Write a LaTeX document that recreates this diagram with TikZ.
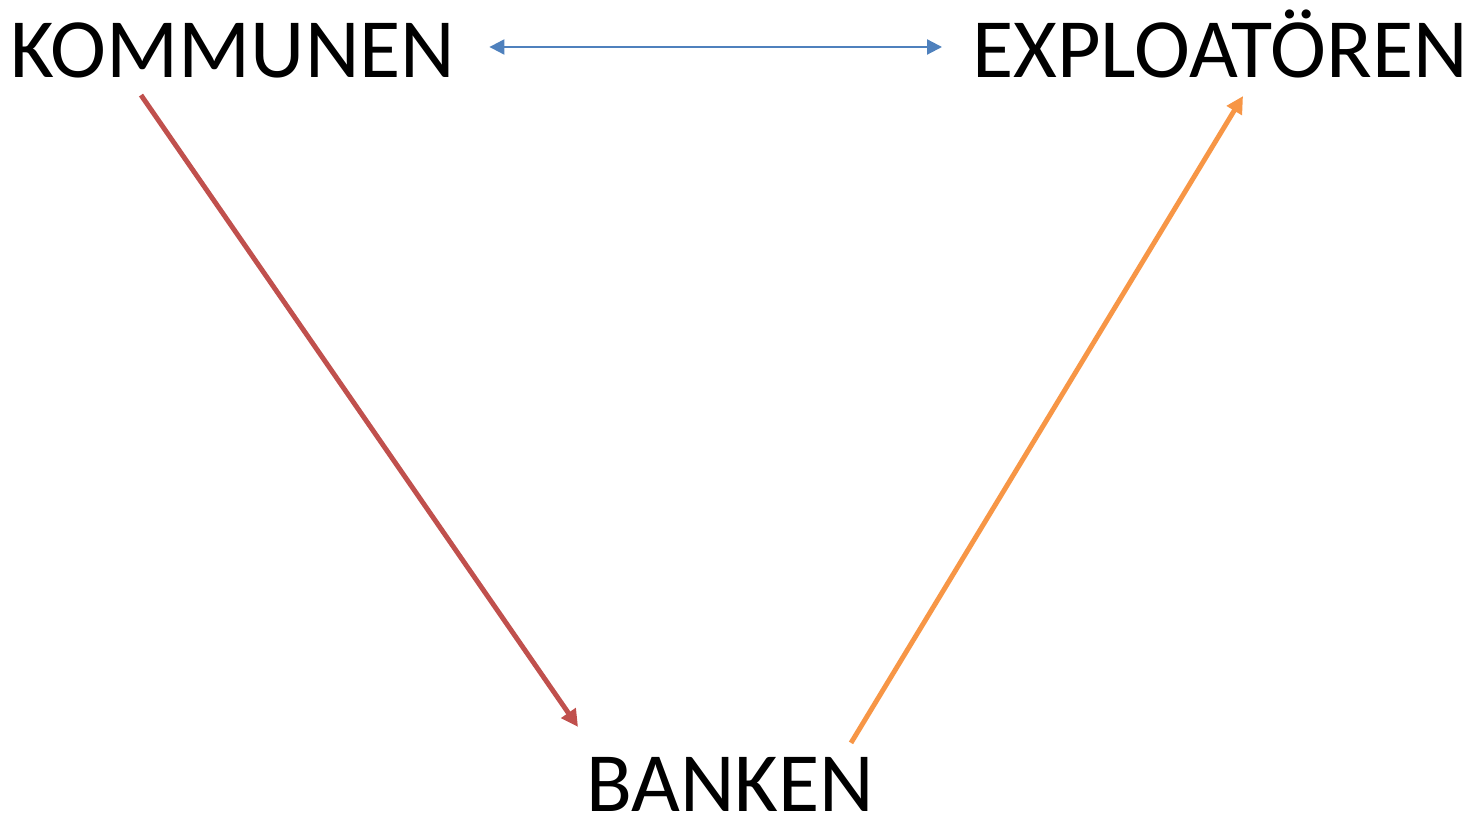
\documentclass[tikz,border=0pt]{standalone}
\usepackage{fontspec}
\setmainfont{Carlito}
\usetikzlibrary{arrows.meta}
\definecolor{linkblue}{HTML}{4F81BD}
\definecolor{linkred}{HTML}{C0504D}
\definecolor{linkorange}{HTML}{F79646}
\begin{document}
\begin{tikzpicture}[
  party/.style={inner sep=0pt, text height=1.07cm, text depth=0pt, font=\fontsize{48}{58}\selectfont},
  both/.style={{Triangle[length=0.3cm,width=0.3cm]}-{Triangle[length=0.3cm,width=0.3cm]}, line width=1.2pt, linkblue},
  loan/.style={-{Triangle[length=0.34cm,width=0.34cm]}, line width=2.8pt, linkred},
  back/.style={-{Triangle[length=0.34cm,width=0.34cm]}, line width=2.8pt, linkorange}
]
\useasboundingbox (0,0) rectangle (29.5,16.36);

% The three parties
\node[party] (kommunen) at (4.66, 15.34) {KOMMUNEN};
\node[party] (exploat)  at (24.40, 15.34) {EXPLOATÖREN};
\node[party] (banken)   at (14.60, 0.66) {BANKEN};

% Agreement between kommunen and exploatören
\draw[both] ([xshift=0.68cm,yshift=0.08cm]kommunen.east) -- ([xshift=-0.6cm,yshift=0.08cm]exploat.west);

% Kommunen -> banken
\draw[loan] ([xshift=-1.84cm,yshift=-0.34cm]kommunen.south) -- ([xshift=-3.04cm,yshift=0.62cm]banken.north);

% Banken -> exploatören
\draw[back] ([xshift=2.42cm,yshift=0.30cm]banken.north) -- ([xshift=0.46cm,yshift=-0.36cm]exploat.south);

\end{tikzpicture}
\end{document}
